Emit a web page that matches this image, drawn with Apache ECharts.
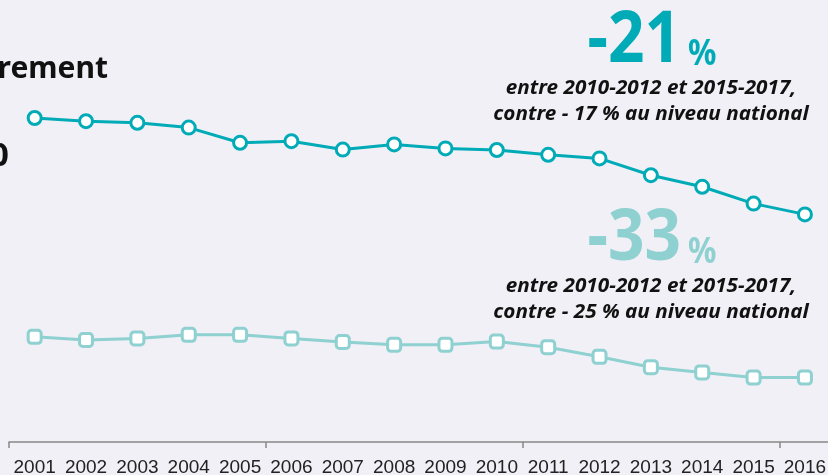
<!DOCTYPE html>
<html>
<head>
<meta charset="utf-8">
<script src="https://cdn.jsdelivr.net/npm/echarts@6/dist/echarts.min.js"></script>
<style>
html,body{margin:0;padding:0;background:#f0f0f6;}
#chart{width:828px;height:475px;}
</style>
</head>
<body>
<div id="chart"></div>
<script>
const years = ['2001','2002','2003','2004','2005','2006','2007','2008','2009','2010','2011','2012','2013','2014','2015','2016'];
const departement = [81.0, 80.2, 79.8, 78.6, 74.8, 75.2, 73.1, 74.4, 73.4, 73.0, 71.8, 70.9, 66.7, 63.8, 59.6, 56.9];
const secondSerie = [26.3, 25.5, 25.9, 26.8, 26.8, 25.9, 25.0, 24.3, 24.3, 25.1, 23.7, 21.3, 18.7, 17.4, 16.1, 16.1];
const titleFragments = ['rement', '0'];
const annot1 = ['-21', '%', 'entre 2010-2012 et 2015-2017,', 'contre - 17 % au niveau national'];
const annot2 = ['-33', '%', 'entre 2010-2012 et 2015-2017,', 'contre - 25 % au niveau national'];

const C1 = '#00abb7';
const C2 = '#8fd0d1';
const chart = echarts.init(document.getElementById('chart'));

function block(a, color, dy) {
  const it = 'italic bold 19px "Noto Sans"';
  return [
    {type:'text', x:681, y:42+dy, scaleX:0.9, originX:0, style:{text:a[0], font:'bold 71px "Noto Sans"', fill:color, align:'right', verticalAlign:'middle'}},
    {type:'text', x:688, y:55+dy, scaleX:0.9, originX:0, style:{text:a[1], font:'bold 35px "Noto Sans"', fill:color, align:'left', verticalAlign:'middle'}},
    {type:'text', x:651, y:89+dy, scaleX:1.09, originX:0, style:{text:a[2], font:it, fill:'#111', align:'center', verticalAlign:'middle'}},
    {type:'text', x:651, y:115+dy, scaleX:1.09, originX:0, style:{text:a[3], font:it, fill:'#111', align:'center', verticalAlign:'middle'}}
  ];
}

chart.setOption({
  backgroundColor:'#f0f0f6',
  animation:false,
  grid:{left:9, top:42, width:821.6, height:400, containLabel:false, outerBoundsMode:'none'},
  xAxis:{
    type:'category', data:years, boundaryGap:true,
    axisLine:{lineStyle:{color:'#888', width:1.5}},
    axisTick:{show:true, interval:4, length:6, lineStyle:{color:'#888', width:1.5}},
    axisLabel:{interval:0, color:'#222', fontFamily:'"Liberation Sans Narrow","Liberation Sans",Arial', fontSize:19, margin:16}
  },
  yAxis:{type:'value', min:0, max:100, show:false, splitLine:{show:false}},
  graphic:[
    {type:'text', x:108, y:69, style:{text:titleFragments[0], font:'bold 30px "Noto Sans"', fill:'#111', align:'right', verticalAlign:'middle'}},
    {type:'text', x:9, y:157, style:{text:titleFragments[1], font:'bold 33px "Noto Sans"', fill:'#111', align:'right', verticalAlign:'middle'}},
    ...block(annot1, C1, 0),
    ...block(annot2, C2, 198)
  ],
  series:[
    {type:'line', data:departement, symbol:'circle', symbolSize:13, showAllSymbol:true,
     lineStyle:{color:C1, width:3}, itemStyle:{color:'#fff', borderColor:C1, borderWidth:3}},
    {type:'line', data:secondSerie, symbol:'roundRect', symbolSize:13, showAllSymbol:true,
     lineStyle:{color:C2, width:3}, itemStyle:{color:'#fff', borderColor:C2, borderWidth:3}}
  ]
});
</script>
</body>
</html>
